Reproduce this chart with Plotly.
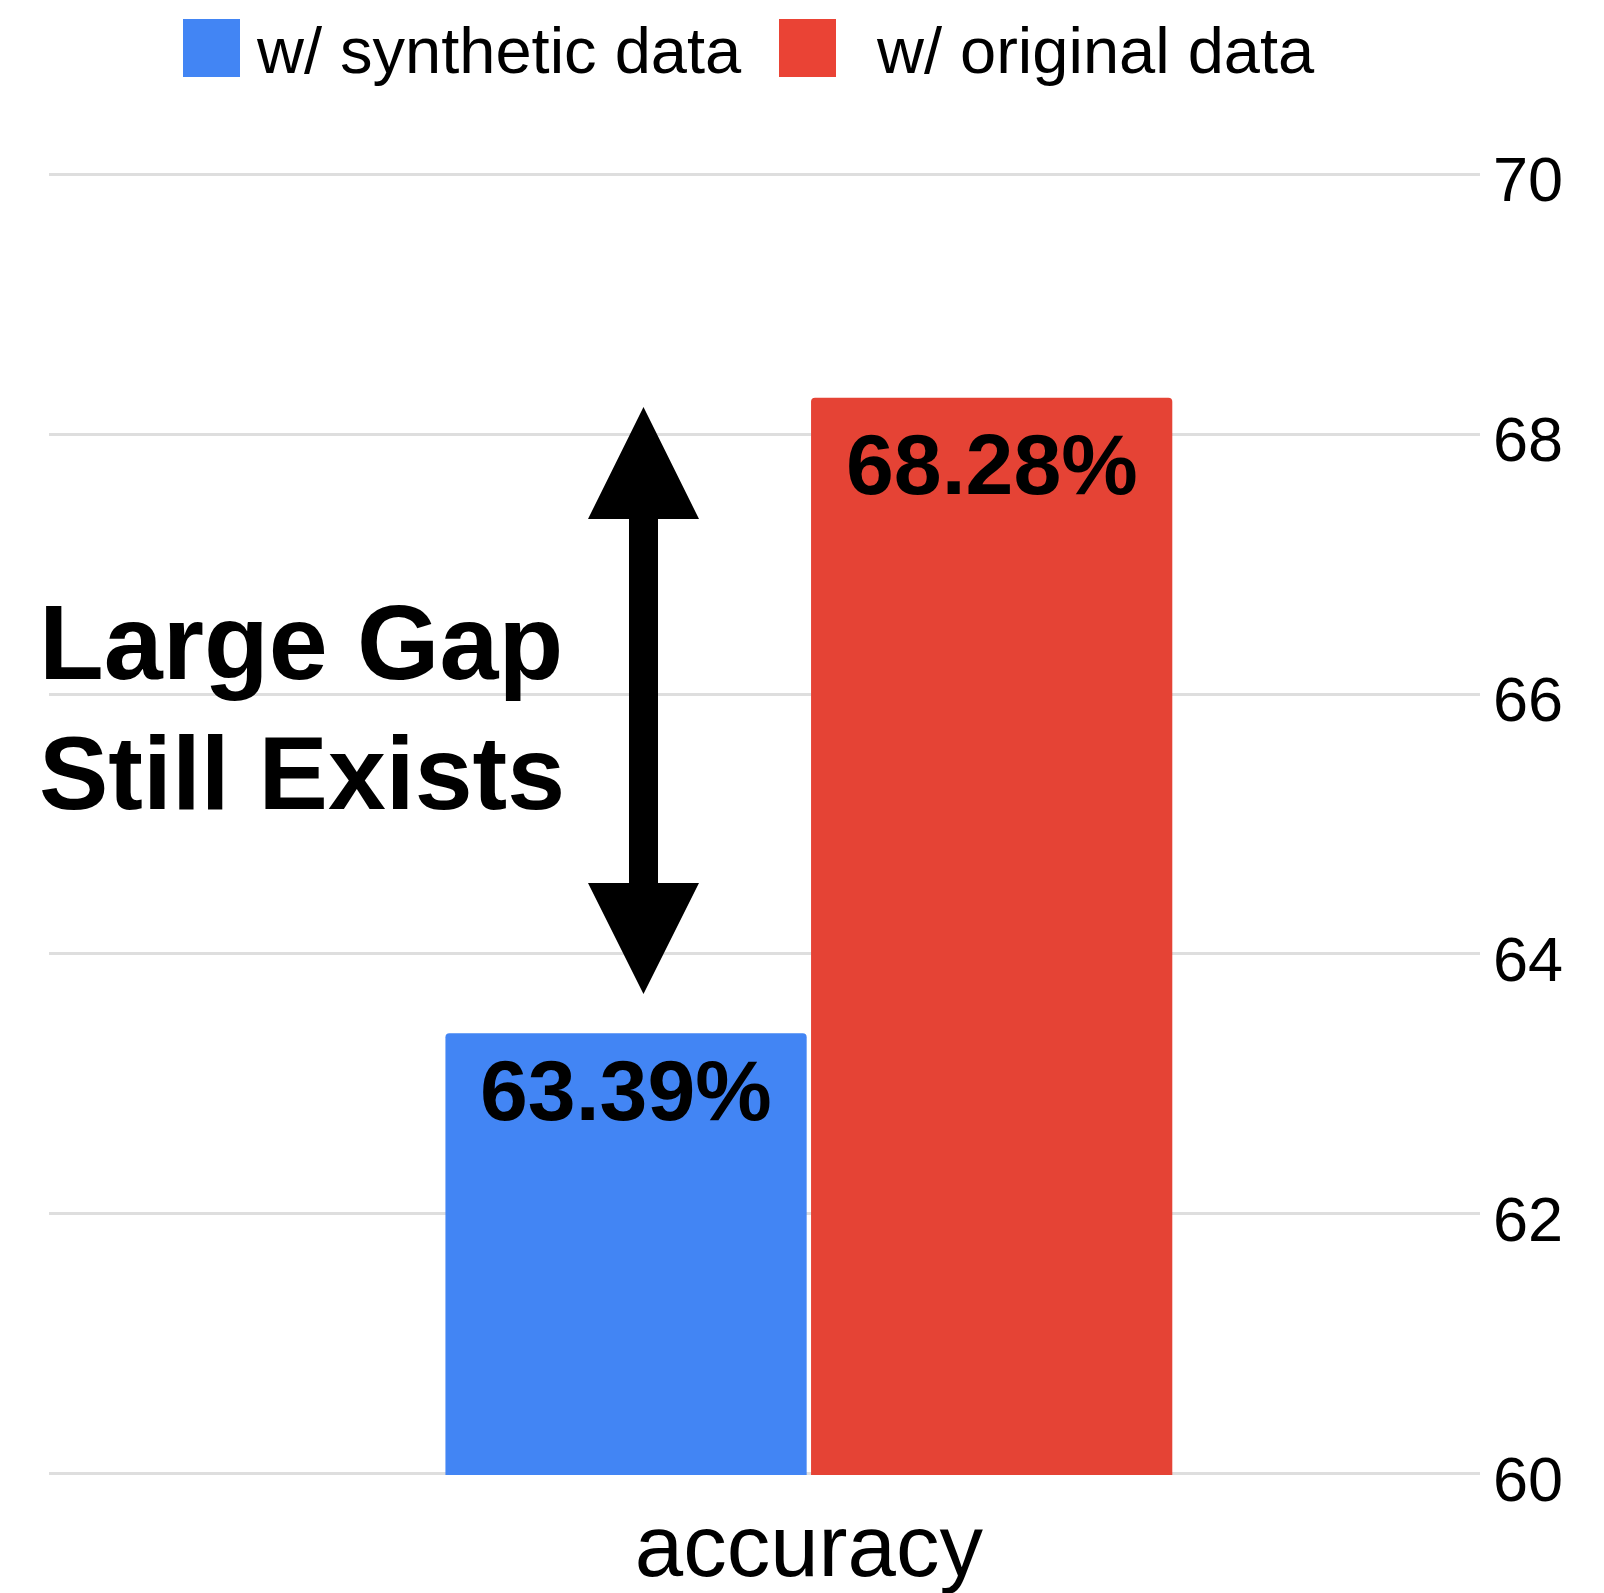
import plotly.graph_objects as go

# ---- data ----
categories = ["accuracy"]
series_names = ["w/ synthetic data", "w/ original data"]
synthetic_acc = [63.39]
original_acc = [68.28]
y_ticks = [60, 62, 64, 66, 68, 70]
note_lines = ["Large Gap", "Still Exists"]

# ---- style ----
BLUE = "#4285F4"
RED = "#E54335"
LEGEND_RED = "#EA4335"
GRID = "#dedede"
FONT = "Liberation Sans, Arial, Helvetica, sans-serif"

W, H = 1604, 1593
M_L, M_R, M_T, M_B = 49, 124, 173, 118
PLOT_W = W - M_L - M_R
PLOT_H = H - M_T - M_B

BARGAP = 0.489
GROUPGAP = 0.012
X_RANGE = [-0.531, 0.469]
Y_RANGE = [59.99, 70.01]  # tiny pad so the end gridlines are drawn


def px_x(px):
    """pixel column -> paper x"""
    return (px - M_L) / PLOT_W


def px_y(py):
    """pixel row -> paper y"""
    return (H - M_B - py) / PLOT_H


fig = go.Figure()
series = [synthetic_acc, original_acc]
colors = [BLUE, RED]
for name, vals, col in zip(series_names, series, colors):
    fig.add_trace(go.Bar(
        x=categories, y=vals, name=name,
        marker=dict(color=col, line=dict(width=0), cornerradius=4),
        showlegend=False, hoverinfo="skip",
    ))

# value labels just inside the top of each bar
slot = (1 - BARGAP) / len(series)
label_shift = [-7, -16]
annotations = []
for i, vals in enumerate(series):
    xc = -(1 - BARGAP) / 2 + slot * (i + 0.5)
    for v in vals:
        annotations.append(dict(
            x=xc, y=v, xref="x", yref="y", text=f"<b>{v:.2f}%</b>",
            showarrow=False, xanchor="center", yanchor="top",
            yshift=label_shift[i],
            font=dict(family=FONT, size=86, color="black"),
        ))

# side note, one line per annotation
for line, top, size in zip(note_lines, [581, 713], [106, 104]):
    annotations.append(dict(
        x=px_x(37), y=px_y(top), xref="paper", yref="paper",
        text=f"<b>{line}</b>",
        showarrow=False, xanchor="left", yanchor="top", align="left",
        font=dict(family=FONT, size=size, color="black"),
    ))

# legend drawn by hand to get large swatches
shapes = []
legend_items = [(183, 254, series_names[0], BLUE), (779, 874, series_names[1], LEGEND_RED)]
for sx, tx, label, col in legend_items:
    shapes.append(dict(
        type="rect", xref="paper", yref="paper",
        x0=px_x(sx), x1=px_x(sx + 57), y0=px_y(77), y1=px_y(19),
        fillcolor=col, line=dict(width=0),
    ))
    annotations.append(dict(
        x=px_x(tx), y=px_y(50), xref="paper", yref="paper", text=label,
        showarrow=False, xanchor="left", yanchor="middle",
        font=dict(family=FONT, size=65, color="black"),
    ))

# double-headed arrow
cx, half_head, half_shaft = 643.5, 55.5, 14.5
top_tip, top_base, bot_base, bot_tip = 407, 519, 883, 994
pts = [
    (cx, top_tip), (cx + half_head, top_base), (cx + half_shaft, top_base),
    (cx + half_shaft, bot_base), (cx + half_head, bot_base), (cx, bot_tip),
    (cx - half_head, bot_base), (cx - half_shaft, bot_base),
    (cx - half_shaft, top_base), (cx - half_head, top_base),
]
path = "M " + " L ".join(f"{px_x(a):.5f},{px_y(b):.5f}" for a, b in pts) + " Z"
shapes.append(dict(type="path", xref="paper", yref="paper", path=path,
                   fillcolor="black", line=dict(width=0)))

fig.update_layout(
    width=W, height=H,
    margin=dict(l=M_L, r=M_R, t=M_T, b=M_B, autoexpand=False),
    paper_bgcolor="white", plot_bgcolor="white",
    barmode="group", bargap=BARGAP, bargroupgap=GROUPGAP,
    font=dict(family=FONT, color="black"),
    annotations=annotations, shapes=shapes,
    xaxis=dict(
        type="category", range=X_RANGE, showgrid=False, showline=False,
        zeroline=False, ticks="", ticklabelstandoff=13,
        tickfont=dict(family=FONT, size=87, color="black"),
    ),
    yaxis=dict(
        side="right", range=Y_RANGE, tickvals=y_ticks,
        showgrid=True, gridcolor=GRID, gridwidth=3,
        showline=False, zeroline=False, ticks="",
        ticklabelstandoff=12, ticklabelshift=5,
        tickfont=dict(family=FONT, size=63, color="black"),
    ),
)

fig.write_html("out.html")
